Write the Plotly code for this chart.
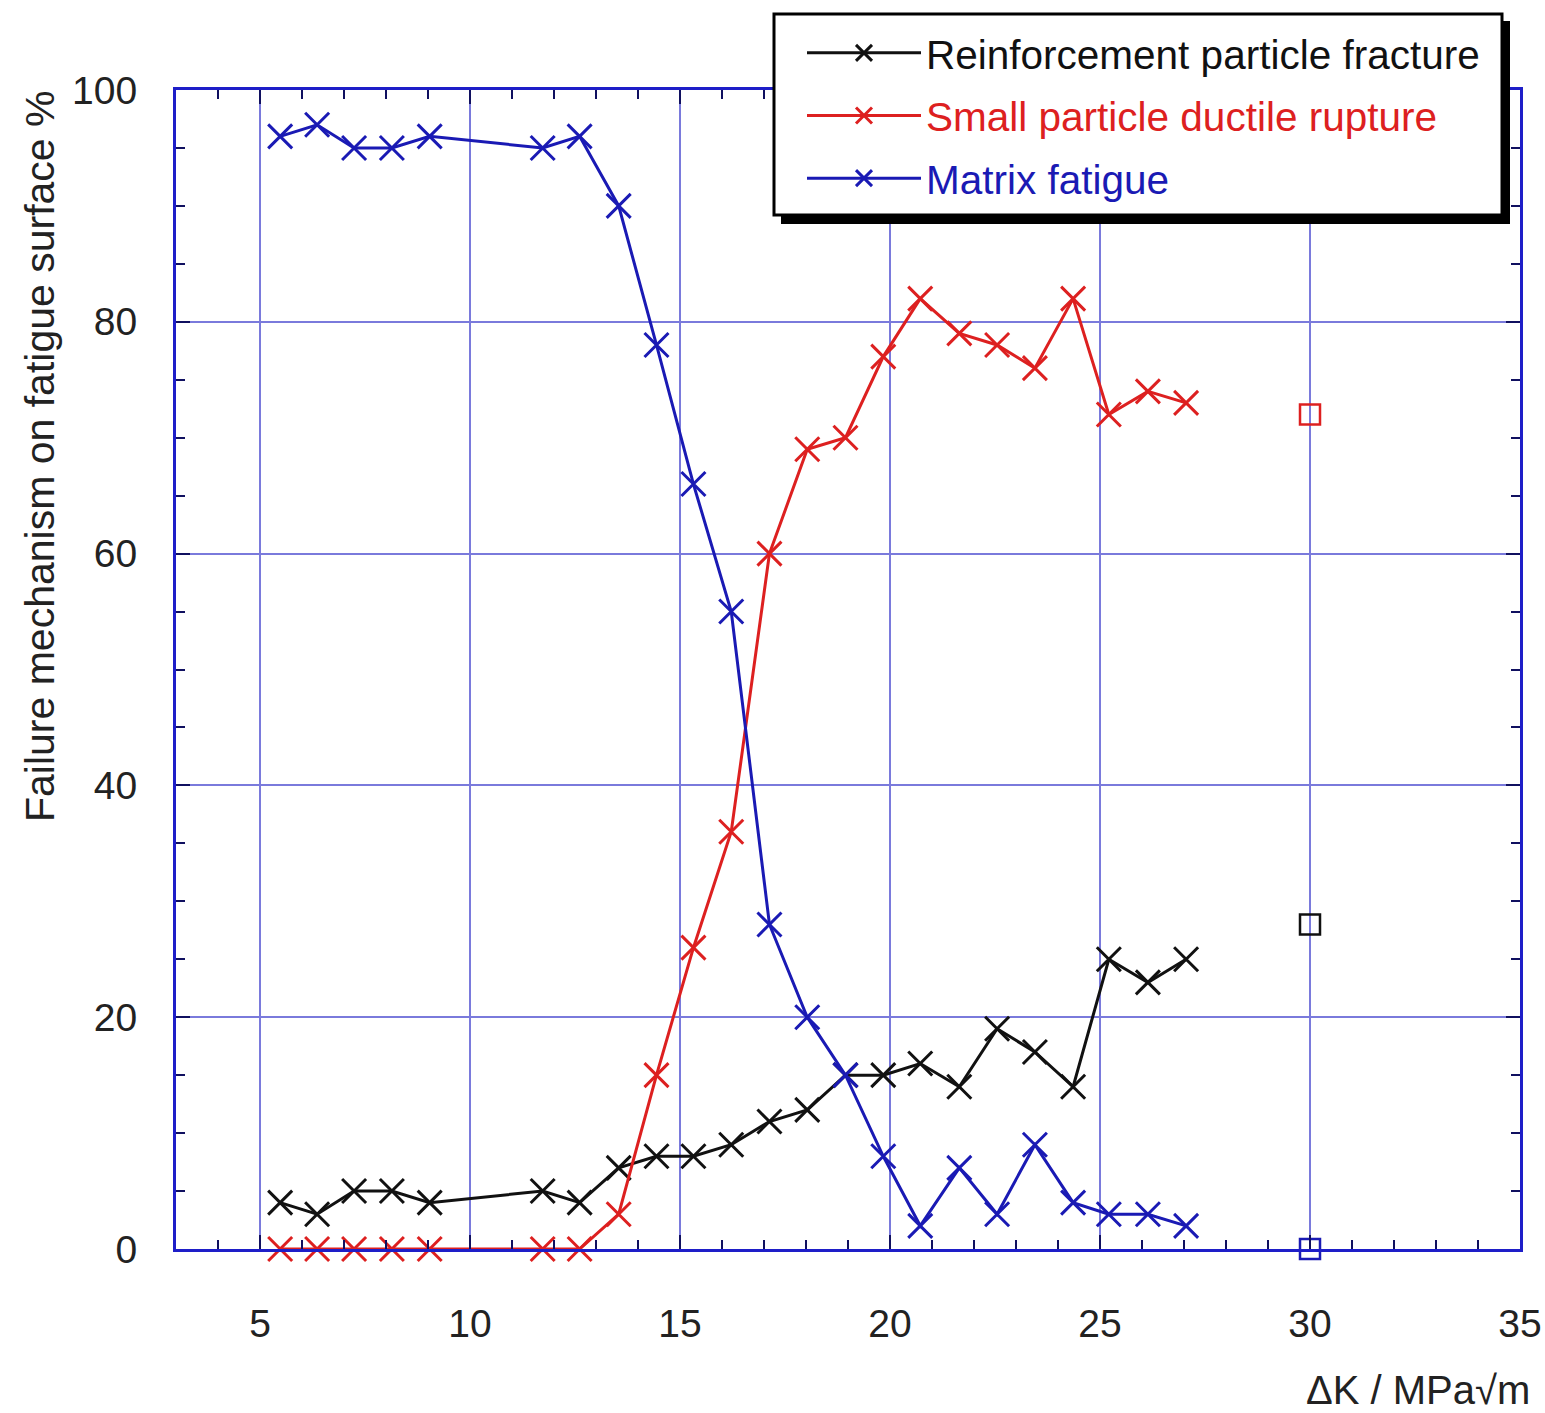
import plotly.graph_objects as go

dk = [5.48, 6.36, 7.24, 8.14, 9.04, 11.73, 12.61, 13.54, 14.44, 15.32, 16.22, 17.13,
      18.03, 18.94, 19.84, 20.72, 21.65, 22.55, 23.45, 24.36, 25.21, 26.14, 27.05]
reinforcement = [4, 3, 5, 5, 4, 5, 4, 7, 8, 8, 9, 11, 12, 15, 15, 16, 14, 19, 17, 14, 25, 23, 25]
ductile = [0, 0, 0, 0, 0, 0, 0, 3, 15, 26, 36, 60, 69, 70, 77, 82, 79, 78, 76, 82, 72, 74, 73]
matrix = [96, 97, 95, 95, 96, 95, 96, 90, 78, 66, 55, 28, 20, 15, 8, 2, 7, 3, 9, 4, 3, 3, 2]

extra_dk = [30.0]
extra_reinforcement = [28]
extra_ductile = [72]
extra_matrix = [0]

names = ["Reinforcement particle fracture", "Small particle ductile rupture", "Matrix fatigue"]
colors = ["#111111", "#dd2020", "#1a1ab4"]

FONT = "Liberation Sans, Arial, Helvetica, sans-serif"

fig = go.Figure()
for i, (ys, ex) in enumerate([(reinforcement, extra_reinforcement),
                              (ductile, extra_ductile),
                              (matrix, extra_matrix)]):
    fig.add_trace(go.Scatter(
        x=dk, y=ys, mode="lines+markers",
        name=f"<span style='color:{colors[i]}'>{names[i]}</span>",
        legendgroup=f"g{i}",
        line=dict(color=colors[i], width=3),
        marker=dict(symbol="x-thin-open", size=24, color=colors[i],
                    line=dict(color=colors[i], width=3)),
        cliponaxis=False,
    ))
    fig.add_trace(go.Scatter(
        x=extra_dk, y=ex, mode="markers", showlegend=False,
        marker=dict(symbol="square-open", size=20, color=colors[i],
                    line=dict(color=colors[i], width=2.5)),
        cliponaxis=False,
    ))

L, R, T, B = 176, 25, 90, 164
W, H = 1545, 1413
pw, ph = W - L - R, H - T - B

def px(x):
    return (x - L) / pw

def py(y):
    return (H - B - y) / ph

axis_color = "#1e1ec8"
grid_color = "#7a7adc"

fig.update_layout(
    width=W, height=H,
    margin=dict(l=L, r=R, t=T, b=B, autoexpand=False),
    paper_bgcolor="white", plot_bgcolor="white",
    font=dict(family=FONT, size=39, color="#222222"),
    showlegend=True,
    legend=dict(
        x=px(802), y=py(20), xanchor="left", yanchor="top",
        bgcolor="rgba(0,0,0,0)", borderwidth=0,
        font=dict(size=40.5, family=FONT),
        tracegroupgap=7, itemwidth=114, traceorder="grouped",
    ),
    shapes=[
        dict(type="rect", xref="paper", yref="paper",
             x0=px(781), x1=px(1510), y0=py(224), y1=py(21),
             fillcolor="black", line=dict(width=0), layer="above"),
        dict(type="rect", xref="paper", yref="paper",
             x0=px(774), x1=px(1502), y0=py(215), y1=py(14),
             fillcolor="white", line=dict(width=3, color="black"), layer="above"),
    ],
    annotations=[
        dict(text="ΔK / MPa√m", xref="paper", yref="paper",
             x=px(1532), y=py(1390), xanchor="right", yanchor="middle",
             showarrow=False, font=dict(size=40, family=FONT, color="#222222")),
        dict(text="Failure mechanism on fatigue surface %", xref="paper", yref="paper",
             x=px(40), y=py(88), xanchor="center", yanchor="top", textangle=-90,
             showarrow=False, font=dict(size=41, family=FONT, color="#222222")),
    ],
)

fig.update_xaxes(
    range=[3, 35], tickvals=[5, 10, 15, 20, 25, 30, 35], automargin=False,
    showgrid=True, gridcolor=grid_color, gridwidth=1.5,
    showline=True, linecolor=axis_color, linewidth=3, mirror="allticks",
    ticks="inside", ticklen=14, tickcolor="#101060", tickwidth=2,
    minor=dict(dtick=1, ticks="inside", ticklen=9, tickcolor="#101060", tickwidth=2, showgrid=False),
    ticklabelstandoff=38, ticklabeloverflow="allow", zeroline=False,
)
fig.update_yaxes(
    range=[0, 100], tickvals=[0, 20, 40, 60, 80, 100], automargin=False,
    showgrid=True, gridcolor=grid_color, gridwidth=1.5,
    showline=True, linecolor=axis_color, linewidth=3, mirror="allticks",
    ticks="inside", ticklen=14, tickcolor="#101060", tickwidth=2,
    minor=dict(dtick=5, ticks="inside", ticklen=9, tickcolor="#101060", tickwidth=2, showgrid=False),
    ticklabelstandoff=28, zeroline=False,
)

fig.write_html("out.html")
